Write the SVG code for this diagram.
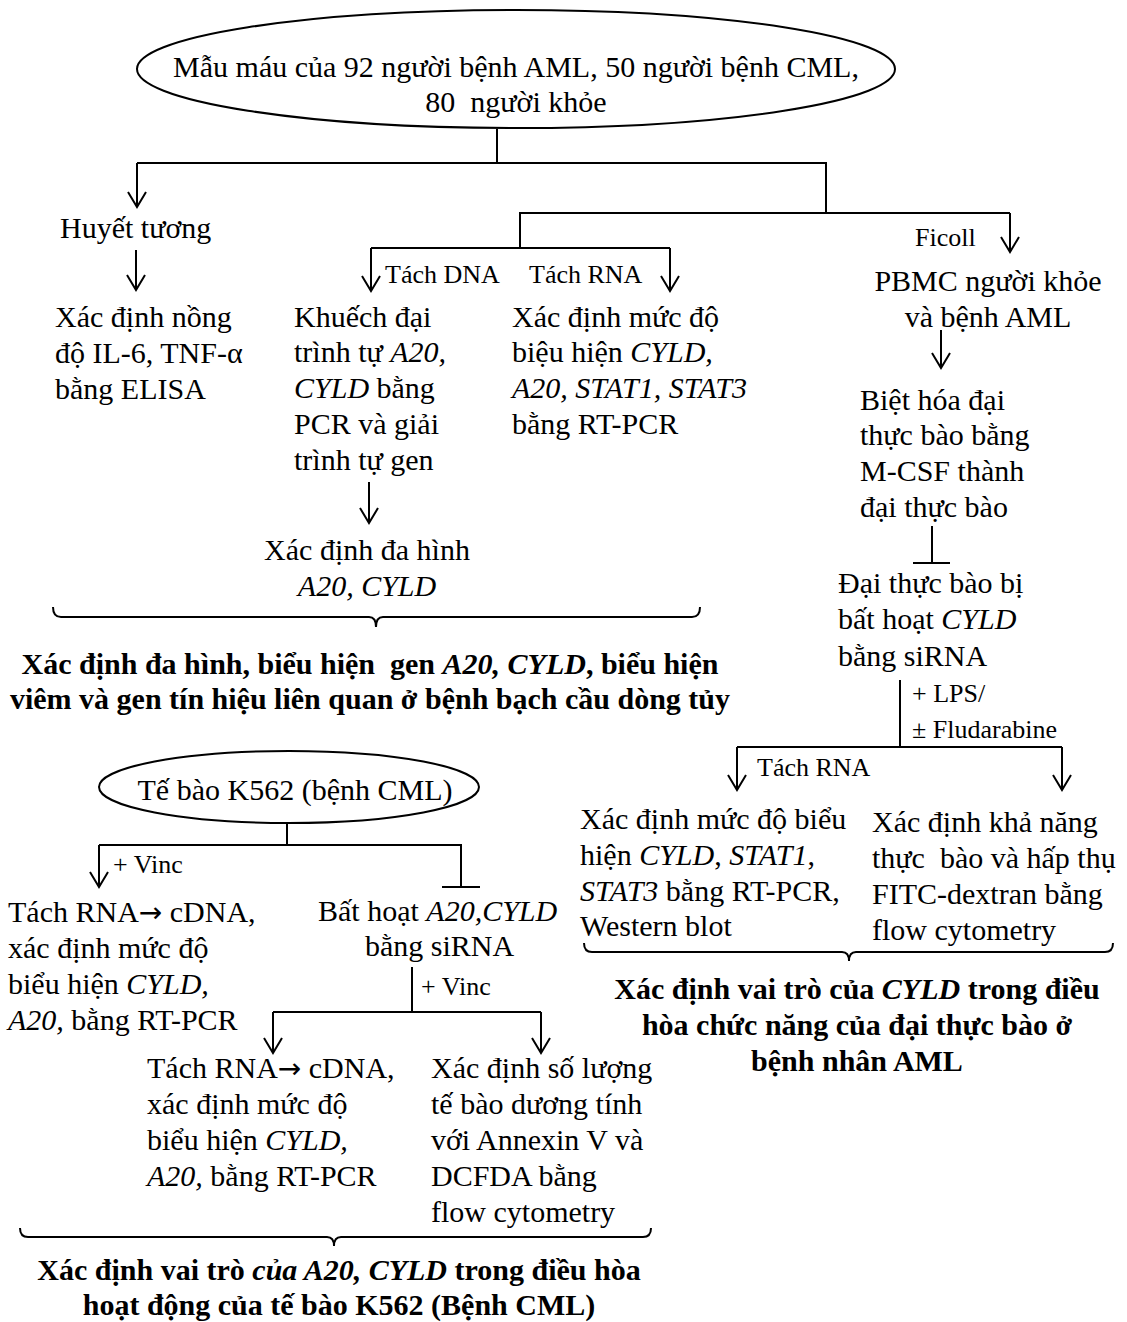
<svg xmlns="http://www.w3.org/2000/svg" width="1127" height="1322" viewBox="0 0 1127 1322">
<style>
text{font-family:"Liberation Serif","Times New Roman",serif;font-size:30px;fill:#000;white-space:pre}
.l{font-size:26px}
.b{font-weight:bold}
.i{font-style:italic}
.c{text-anchor:middle}
.a{font-family:"DejaVu Sans",sans-serif;font-size:28px}
.ln{stroke:#000;stroke-width:2;fill:none}
.ar{stroke:#000;stroke-width:2;fill:none;marker-end:url(#arr)}
.sh{stroke:#000;stroke-width:2;fill:none}
</style>
<defs>
<marker id="arr" viewBox="-17 -10 19 20" refX="0" refY="0" markerWidth="19" markerHeight="20" markerUnits="userSpaceOnUse" orient="auto" overflow="visible">
<path d="M-15,-9 L0,0 L-15,9" fill="none" stroke="#000" stroke-width="2"/>
</marker>
</defs>
<rect width="1127" height="1322" fill="#fff"/>

<g id="connectors">
<path class="ln" d="M497,129 V163 M137,163 H826 V213 M520,248 V213 H1010 M371,248 H670"/>
<path class="ar" d="M137,163 V207"/>
<path class="ar" d="M1010,213 V252"/>
<path class="ar" d="M371,248 V291"/>
<path class="ar" d="M670,248 V291"/>
<path class="ar" d="M136,250 V290"/>
<path class="ar" d="M369,482 V523"/>
<path class="ar" d="M941,330 V368"/>
<path class="ln" d="M932,526 V563 M913,563 H950"/>
<path class="ln" d="M900,680 V747 M737,747 H1062"/>
<path class="ar" d="M737,747 V790"/>
<path class="ar" d="M1062,747 V790"/>
<path class="ln" d="M287,823 V845 M99,845 H461 V887 M442,887 H480"/>
<path class="ar" d="M99,845 V887"/>
<path class="ln" d="M412,967 V1012 M273,1012 H541"/>
<path class="ar" d="M273,1012 V1053"/>
<path class="ar" d="M541,1012 V1053"/>
<path class="sh" d="M53,607 Q53,617 61,617 L369,617 Q376,617 376,627 Q376,617 383,617 L692,617 Q700,617 700,607"/>
<path class="sh" d="M584,943 Q584,952 592,952 L842,952 Q849,952 849,961 Q849,952 856,952 L1105,952 Q1113,952 1113,943"/>
<path class="sh" d="M20,1228 Q20,1237 28,1237 L327,1237 Q334,1237 334,1246 Q334,1237 341,1237 L643,1237 Q651,1237 651,1228"/>
</g>

<g id="n-mau">
<ellipse cx="516" cy="69" rx="379" ry="59" class="sh"/>
<text x="516" y="77" class="c">Mẫu máu của 92 người bệnh AML, 50 người bệnh CML,</text>
<text x="516" y="112" class="c">80  người khỏe</text>
</g>

<g id="n-huyet"><text x="60" y="238">Huyết tương</text></g>
<g id="lbl-tach-dna"><text x="385" y="283" class="l">Tách DNA</text></g>
<g id="lbl-tach-rna"><text x="529" y="283" class="l">Tách RNA</text></g>
<g id="lbl-ficoll"><text x="915" y="246" class="l">Ficoll</text></g>

<g id="n-elisa">
<text x="55" y="327">Xác định nồng</text>
<text x="55" y="363">độ IL-6, TNF-α</text>
<text x="55" y="399">bằng ELISA</text>
</g>

<g id="n-khuech">
<text x="294" y="327">Khuếch đại</text>
<text x="294" y="362">trình tự <tspan class="i">A20,</tspan></text>
<text x="294" y="398"><tspan class="i">CYLD</tspan> bằng</text>
<text x="294" y="434">PCR và giải</text>
<text x="294" y="470">trình tự gen</text>
</g>

<g id="n-rtpcr">
<text x="512" y="327">Xác định mức độ</text>
<text x="512" y="362">biệu hiện <tspan class="i">CYLD,</tspan></text>
<text x="512" y="398" class="i">A20, STAT1, STAT3</text>
<text x="512" y="434">bằng RT-PCR</text>
</g>

<g id="n-dahinh">
<text x="367" y="560" class="c">Xác định đa hình</text>
<text x="367" y="596" class="c i">A20, CYLD</text>
</g>

<g id="cap-1">
<text x="370" y="674" class="c b">Xác định đa hình, biểu hiện  gen <tspan class="i">A20, CYLD</tspan>, biểu hiện</text>
<text x="370" y="709" class="c b">viêm và gen tín hiệu liên quan ở bệnh bạch cầu dòng tủy</text>
</g>

<g id="n-pbmc">
<text x="988" y="291" class="c">PBMC người khỏe</text>
<text x="988" y="327" class="c">và bệnh AML</text>
</g>

<g id="n-biet">
<text x="860" y="410">Biệt hóa đại</text>
<text x="860" y="445">thực bào bằng</text>
<text x="860" y="481">M-CSF thành</text>
<text x="860" y="517">đại thực bào</text>
</g>

<g id="n-dai">
<text x="838" y="593">Đại thực bào bị</text>
<text x="838" y="629">bất hoạt <tspan class="i">CYLD</tspan></text>
<text x="838" y="666">bằng siRNA</text>
</g>

<g id="lbl-lps">
<text x="912" y="702" class="l">+ LPS/</text>
<text x="912" y="738" class="l">± Fludarabine</text>
</g>
<g id="lbl-tach-rna2"><text x="757" y="776" class="l">Tách RNA</text></g>

<g id="n-xdm">
<text x="580" y="829">Xác định mức độ biểu</text>
<text x="580" y="865">hiện <tspan class="i">CYLD</tspan>, <tspan class="i">STAT1</tspan>,</text>
<text x="580" y="901"><tspan class="i">STAT3</tspan> bằng RT-PCR,</text>
<text x="580" y="936">Western blot</text>
</g>

<g id="n-kha">
<text x="872" y="832">Xác định khả năng</text>
<text x="872" y="868">thực  bào và hấp thụ</text>
<text x="872" y="904">FITC-dextran bằng</text>
<text x="872" y="940">flow cytometry</text>
</g>

<g id="cap-2">
<text x="857" y="999" class="c b">Xác định vai trò của <tspan class="i">CYLD</tspan> trong điều</text>
<text x="857" y="1035" class="c b">hòa chức năng của đại thực bào ở</text>
<text x="857" y="1071" class="c b">bệnh nhân AML</text>
</g>

<g id="n-k562">
<ellipse cx="289" cy="787" rx="190" ry="36" class="sh"/>
<text x="295" y="800" class="c">Tế bào K562 (bệnh CML)</text>
</g>

<g id="lbl-vinc1"><text x="113" y="873" class="l">+ Vinc</text></g>

<g id="n-tach1">
<text x="8" y="922">Tách RNA<tspan class="a">→</tspan> cDNA,</text>
<text x="8" y="958">xác định mức độ</text>
<text x="8" y="994">biểu hiện <tspan class="i">CYLD,</tspan></text>
<text x="8" y="1030"><tspan class="i">A20,</tspan> bằng RT-PCR</text>
</g>

<g id="n-bathoat">
<text x="318" y="921">Bất hoạt <tspan class="i">A20,CYLD</tspan></text>
<text x="365" y="956">bằng siRNA</text>
</g>

<g id="lbl-vinc2"><text x="421" y="995" class="l">+ Vinc</text></g>

<g id="n-tach2">
<text x="147" y="1078">Tách RNA<tspan class="a">→</tspan> cDNA,</text>
<text x="147" y="1114">xác định mức độ</text>
<text x="147" y="1150">biểu hiện <tspan class="i">CYLD,</tspan></text>
<text x="147" y="1186"><tspan class="i">A20,</tspan> bằng RT-PCR</text>
</g>

<g id="n-xdsl">
<text x="431" y="1078">Xác định số lượng</text>
<text x="431" y="1114">tế bào dương tính</text>
<text x="431" y="1150">với Annexin V và</text>
<text x="431" y="1186">DCFDA bằng</text>
<text x="431" y="1222">flow cytometry</text>
</g>

<g id="cap-3">
<text x="339" y="1280" class="c b">Xác định vai trò <tspan class="i">của A20, CYLD</tspan> trong điều hòa</text>
<text x="339" y="1315" class="c b">hoạt động của tế bào K562 (Bệnh CML)</text>
</g>
</svg>
